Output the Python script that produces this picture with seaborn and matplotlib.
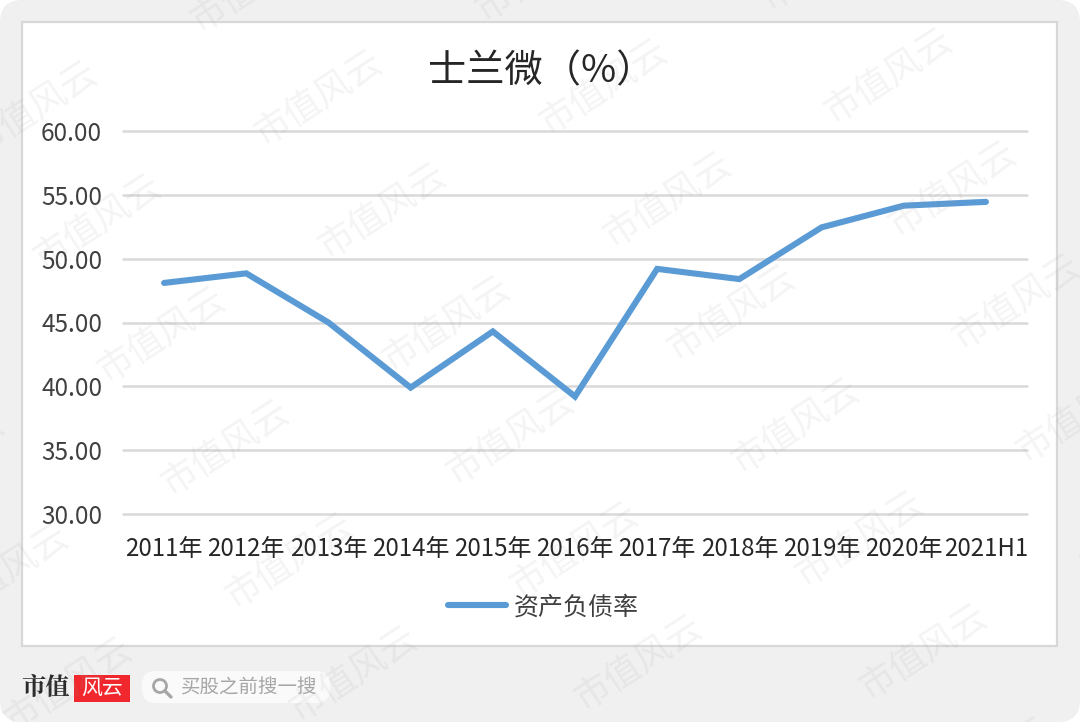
import matplotlib
matplotlib.use("Agg")
import matplotlib.pyplot as plt
import seaborn as sns
import pandas as pd
from matplotlib.patches import Rectangle, FancyBboxPatch, Circle

years = ["2011年", "2012年", "2013年", "2014年", "2015年", "2016年",
         "2017年", "2018年", "2019年", "2020年", "2021H1"]
ratio = [48.1, 48.85, 45.0, 39.9, 44.3, 39.2, 49.2, 48.4, 52.45, 54.15, 54.45]
y_ticks = [30, 35, 40, 45, 50, 55, 60]
series_name = "资产负债率"
title = "士兰微（%）"

W, H = 1080, 722
sns.set_theme(style="white")
plt.rcParams["font.family"] = ["Noto Sans CJK SC", "DejaVu Sans"]

fig = plt.figure(figsize=(W / 100, H / 100), dpi=100, facecolor="white")

# backdrop in pixel coordinates
bg = fig.add_axes([0, 0, 1, 1], zorder=0)
bg.set_xlim(0, W)
bg.set_ylim(H, 0)
bg.axis("off")
bg.add_patch(FancyBboxPatch((0, 0), W, H, boxstyle="round,pad=0,rounding_size=22",
                            fc="#f0f0f0", ec="none"))
bg.add_patch(Rectangle((22, 22), 1035, 624, fc="white", ec="#d8d8d8", lw=1.6))

# the line chart
ax = fig.add_axes([123 / W, 1 - 514 / H, 904 / W, 383 / H], zorder=1)
ax.patch.set_alpha(0)
df = pd.DataFrame({"year": years, series_name: ratio})
sns.lineplot(data=df, x="year", y=series_name, ax=ax, color="#5b9bd5", lw=4.4,
             sort=False, label=series_name, legend=False, solid_joinstyle="miter")
ax.set_xlim(-0.5, len(years) - 0.5)
ax.set_ylim(30, 60)
ax.set_yticks(y_ticks)
ax.set_yticklabels([f"{v:.2f}" for v in y_ticks])
ax.set_xlabel("")
ax.set_ylabel("")
ax.grid(axis="y", color="#d9d9d9", lw=1.8, clip_on=False)
ax.set_axisbelow(True)
sns.despine(ax=ax, left=True, bottom=True)
ax.tick_params(axis="y", length=0, pad=15, labelsize=17.5, labelcolor="#404040")
ax.tick_params(axis="x", length=0, pad=16, labelsize=17.3, labelcolor="#262626")

fig.text(541 / W, 1 - 72 / H, title, fontsize=27.5, color="#262626", ha="center", va="center")

leg = ax.legend(loc="center", bbox_to_anchor=(0.465, -0.243), frameon=False, fontsize=18,
                handlelength=2.3, handletextpad=0.3, labelcolor="#404040")

# footer logo and search box
top = fig.add_axes([0, 0, 1, 1], zorder=2)
top.set_xlim(0, W)
top.set_ylim(H, 0)
top.axis("off")
top.patch.set_alpha(0)
top.text(21, 688, "市值", fontsize=17.5, fontweight="bold", family=["Noto Serif CJK SC", "Noto Sans CJK SC"],
         color="#2b2b2b", va="center", ha="left")
top.add_patch(Rectangle((74, 675), 56, 27, fc="#f0282d", ec="none"))
top.text(102, 688, "风云", fontsize=15, style="italic", color="white", va="center", ha="center")
top.add_patch(FancyBboxPatch((142, 671), 188, 32, boxstyle="round,pad=0,rounding_size=14",
                             fc="#fafafa", ec="none"))
top.add_patch(Circle((160, 686), 6.5, fc="none", ec="#a6a6a6", lw=2))
top.plot([165, 171], [691, 697], color="#a6a6a6", lw=2.4)
top.text(181, 688, "买股之前搜一搜", fontsize=14, color="#a6a6a6", va="center", ha="left")

# repeated watermark
for i in range(-2, 6):
    for j in range(-2, 7):
        x = 318 + 285 * i + 64 * j
        y = 98 - 11 * i + 113 * j
        if -70 < x < W + 70 and -70 < y < H + 70:
            top.text(x, y, "市值风云", fontsize=26, rotation=33, color="#9a9a9a", alpha=0.11,
                     ha="center", va="center", clip_on=True)

fig.savefig("out.png", dpi=100)
